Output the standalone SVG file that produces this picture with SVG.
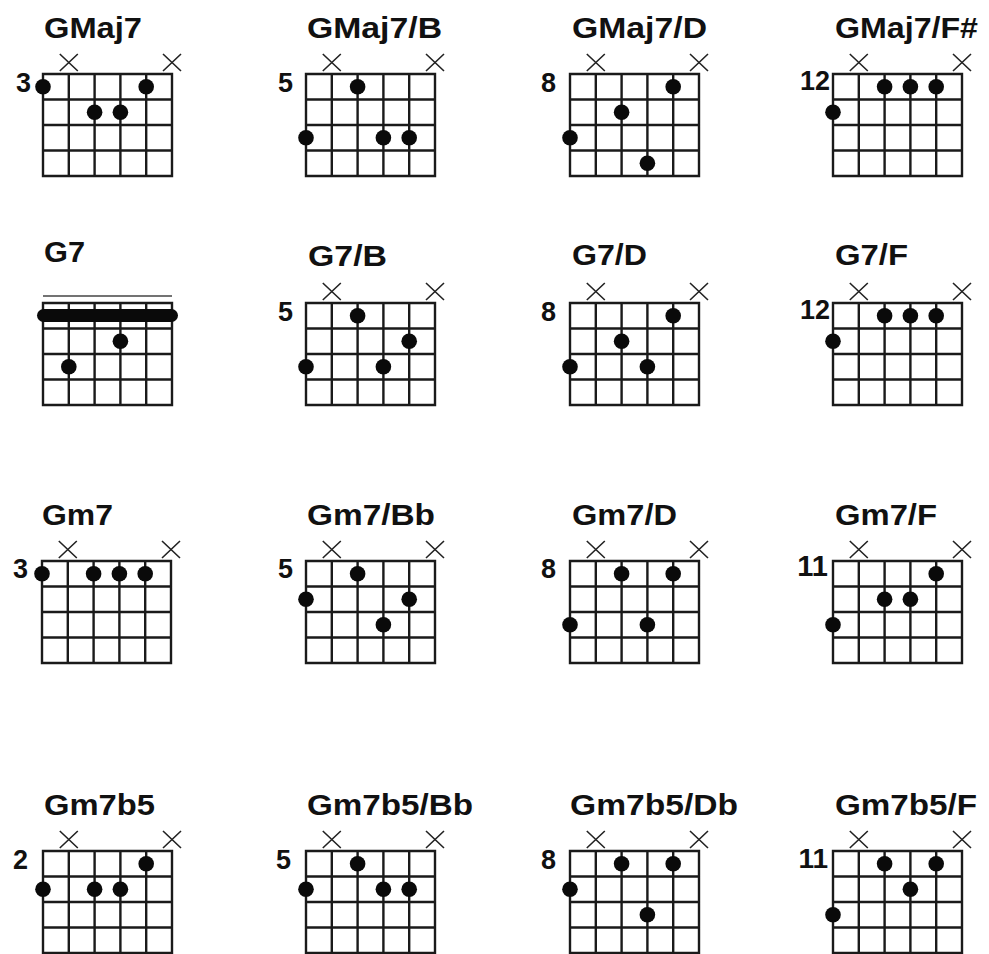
<svg xmlns="http://www.w3.org/2000/svg" xmlns:xlink="http://www.w3.org/1999/xlink" width="989" height="954" viewBox="0 0 989 954">
<style>
.grid{fill:none;stroke:#1a1a1a;stroke-width:2.4;stroke-linecap:square}
.mute{fill:none;stroke:#222;stroke-width:1.6}
.dot{fill:#0a0a0a}
.title{font-family:"Liberation Sans",Arial,sans-serif;font-weight:bold;font-size:29px;fill:#111}
.fret{font-family:"Liberation Sans",Arial,sans-serif;font-weight:bold;font-size:27px;fill:#111;text-anchor:end}
</style>
<defs>
<path id="g" class="grid" d="M0,0H129M0,25.5H129M0,51H129M0,76.5H129M0,102H129M0,0V102M25.8,0V102M51.6,0V102M77.4,0V102M103.2,0V102M129,0V102"/>
<path id="x" class="mute" d="M-9,-20L9,-3M9,-20L-9,-3"/>
<g id="xx"><use xlink:href="#x" x="25.8"/><use xlink:href="#x" x="129"/></g>
<circle id="d" class="dot" r="7.8"/>
</defs>
<rect width="989" height="954" fill="#fff"/>

<!-- Row 1 -->
<g id="GMaj7" transform="translate(43,74)">
<text class="title" x="1" y="-36" textLength="98" lengthAdjust="spacingAndGlyphs">GMaj7</text>
<text class="fret" x="-12" y="18">3</text>
<use xlink:href="#g"/><use xlink:href="#xx"/>
<use xlink:href="#d" x="0" y="12.75"/><use xlink:href="#d" x="103.2" y="12.75"/>
<use xlink:href="#d" x="51.6" y="38.25"/><use xlink:href="#d" x="77.4" y="38.25"/>
</g>
<g id="GMaj7_B" transform="translate(306,74)">
<text class="title" x="1" y="-36" textLength="135" lengthAdjust="spacingAndGlyphs">GMaj7/B</text>
<text class="fret" x="-13" y="18">5</text>
<use xlink:href="#g"/><use xlink:href="#xx"/>
<use xlink:href="#d" x="51.6" y="12.75"/>
<use xlink:href="#d" x="0" y="63.75"/><use xlink:href="#d" x="77.4" y="63.75"/><use xlink:href="#d" x="103.2" y="63.75"/>
</g>
<g id="GMaj7_D" transform="translate(570,74)">
<text class="title" x="2" y="-36" textLength="135" lengthAdjust="spacingAndGlyphs">GMaj7/D</text>
<text class="fret" x="-14" y="18">8</text>
<use xlink:href="#g"/><use xlink:href="#xx"/>
<use xlink:href="#d" x="103.2" y="12.75"/>
<use xlink:href="#d" x="51.6" y="38.25"/>
<use xlink:href="#d" x="0" y="63.75"/>
<use xlink:href="#d" x="77.4" y="89.25"/>
</g>
<g id="GMaj7_Fs" transform="translate(833,74)">
<text class="title" x="2" y="-36" textLength="143" lengthAdjust="spacingAndGlyphs">GMaj7/F#</text>
<text class="fret" x="-3" y="16">12</text>
<use xlink:href="#g"/><use xlink:href="#xx"/>
<use xlink:href="#d" x="51.6" y="12.75"/><use xlink:href="#d" x="77.4" y="12.75"/><use xlink:href="#d" x="103.2" y="12.75"/>
<use xlink:href="#d" x="0" y="38.25"/>
</g>

<!-- Row 2 -->
<g id="G7" transform="translate(43,303)">
<text class="title" x="1" y="-41" textLength="41" lengthAdjust="spacingAndGlyphs">G7</text>
<path d="M0,-7H129" stroke="#444" stroke-width="1.6"/>
<use xlink:href="#g"/>
<rect class="dot" x="-6" y="6" width="141" height="13" rx="6.5"/>
<use xlink:href="#d" x="77.4" y="38.25"/>
<use xlink:href="#d" x="25.8" y="63.75"/>
</g>
<g id="G7_B" transform="translate(306,303)">
<text class="title" x="2" y="-37" textLength="79" lengthAdjust="spacingAndGlyphs">G7/B</text>
<text class="fret" x="-13" y="18">5</text>
<use xlink:href="#g"/><use xlink:href="#xx"/>
<use xlink:href="#d" x="51.6" y="12.75"/>
<use xlink:href="#d" x="103.2" y="38.25"/>
<use xlink:href="#d" x="0" y="63.75"/><use xlink:href="#d" x="77.4" y="63.75"/>
</g>
<g id="G7_D" transform="translate(570,303)">
<text class="title" x="2" y="-38" textLength="75" lengthAdjust="spacingAndGlyphs">G7/D</text>
<text class="fret" x="-14" y="18">8</text>
<use xlink:href="#g"/><use xlink:href="#xx"/>
<use xlink:href="#d" x="103.2" y="12.75"/>
<use xlink:href="#d" x="51.6" y="38.25"/>
<use xlink:href="#d" x="0" y="63.75"/><use xlink:href="#d" x="77.4" y="63.75"/>
</g>
<g id="G7_F" transform="translate(833,303)">
<text class="title" x="2" y="-38" textLength="73" lengthAdjust="spacingAndGlyphs">G7/F</text>
<text class="fret" x="-3" y="16">12</text>
<use xlink:href="#g"/><use xlink:href="#xx"/>
<use xlink:href="#d" x="51.6" y="12.75"/><use xlink:href="#d" x="77.4" y="12.75"/><use xlink:href="#d" x="103.2" y="12.75"/>
<use xlink:href="#d" x="0" y="38.25"/>
</g>

<!-- Row 3 -->
<g id="Gm7" transform="translate(42,561)">
<text class="title" x="0" y="-36" textLength="71" lengthAdjust="spacingAndGlyphs">Gm7</text>
<text class="fret" x="-14" y="17">3</text>
<use xlink:href="#g"/><use xlink:href="#xx"/>
<use xlink:href="#d" x="0" y="12.75"/><use xlink:href="#d" x="51.6" y="12.75"/><use xlink:href="#d" x="77.4" y="12.75"/><use xlink:href="#d" x="103.2" y="12.75"/>
</g>
<g id="Gm7_Bb" transform="translate(306,561)">
<text class="title" x="1" y="-36" textLength="128" lengthAdjust="spacingAndGlyphs">Gm7/Bb</text>
<text class="fret" x="-13" y="17">5</text>
<use xlink:href="#g"/><use xlink:href="#xx"/>
<use xlink:href="#d" x="51.6" y="12.75"/>
<use xlink:href="#d" x="0" y="38.25"/><use xlink:href="#d" x="103.2" y="38.25"/>
<use xlink:href="#d" x="77.4" y="63.75"/>
</g>
<g id="Gm7_D" transform="translate(570,561)">
<text class="title" x="2" y="-36" textLength="105" lengthAdjust="spacingAndGlyphs">Gm7/D</text>
<text class="fret" x="-14" y="17">8</text>
<use xlink:href="#g"/><use xlink:href="#xx"/>
<use xlink:href="#d" x="51.6" y="12.75"/><use xlink:href="#d" x="103.2" y="12.75"/>
<use xlink:href="#d" x="0" y="63.75"/><use xlink:href="#d" x="77.4" y="63.75"/>
</g>
<g id="Gm7_F" transform="translate(833,561)">
<text class="title" x="2" y="-36" textLength="102" lengthAdjust="spacingAndGlyphs">Gm7/F</text>
<text class="fret" x="-5" y="15" style="font-size:29px">11</text>
<use xlink:href="#g"/><use xlink:href="#xx"/>
<use xlink:href="#d" x="103.2" y="12.75"/>
<use xlink:href="#d" x="51.6" y="38.25"/><use xlink:href="#d" x="77.4" y="38.25"/>
<use xlink:href="#d" x="0" y="63.75"/>
</g>

<!-- Row 4 -->
<g id="Gm7b5" transform="translate(43,851)">
<text class="title" x="1" y="-36" textLength="111" lengthAdjust="spacingAndGlyphs">Gm7b5</text>
<text class="fret" x="-15" y="18">2</text>
<use xlink:href="#g"/><use xlink:href="#xx"/>
<use xlink:href="#d" x="103.2" y="12.75"/>
<use xlink:href="#d" x="0" y="38.25"/><use xlink:href="#d" x="51.6" y="38.25"/><use xlink:href="#d" x="77.4" y="38.25"/>
</g>
<g id="Gm7b5_Bb" transform="translate(306,851)">
<text class="title" x="1" y="-36" textLength="166" lengthAdjust="spacingAndGlyphs">Gm7b5/Bb</text>
<text class="fret" x="-15" y="18">5</text>
<use xlink:href="#g"/><use xlink:href="#xx"/>
<use xlink:href="#d" x="51.6" y="12.75"/>
<use xlink:href="#d" x="0" y="38.25"/><use xlink:href="#d" x="77.4" y="38.25"/><use xlink:href="#d" x="103.2" y="38.25"/>
</g>
<g id="Gm7b5_Db" transform="translate(570,851)">
<text class="title" x="0" y="-36" textLength="168" lengthAdjust="spacingAndGlyphs">Gm7b5/Db</text>
<text class="fret" x="-14" y="18">8</text>
<use xlink:href="#g"/><use xlink:href="#xx"/>
<use xlink:href="#d" x="51.6" y="12.75"/><use xlink:href="#d" x="103.2" y="12.75"/>
<use xlink:href="#d" x="0" y="38.25"/>
<use xlink:href="#d" x="77.4" y="63.75"/>
</g>
<g id="Gm7b5_F" transform="translate(833,851)">
<text class="title" x="2" y="-36" textLength="142" lengthAdjust="spacingAndGlyphs">Gm7b5/F</text>
<text class="fret" x="-5" y="17" style="font-size:28px">11</text>
<use xlink:href="#g"/><use xlink:href="#xx"/>
<use xlink:href="#d" x="51.6" y="12.75"/><use xlink:href="#d" x="103.2" y="12.75"/>
<use xlink:href="#d" x="77.4" y="38.25"/>
<use xlink:href="#d" x="0" y="63.75"/>
</g>
</svg>
